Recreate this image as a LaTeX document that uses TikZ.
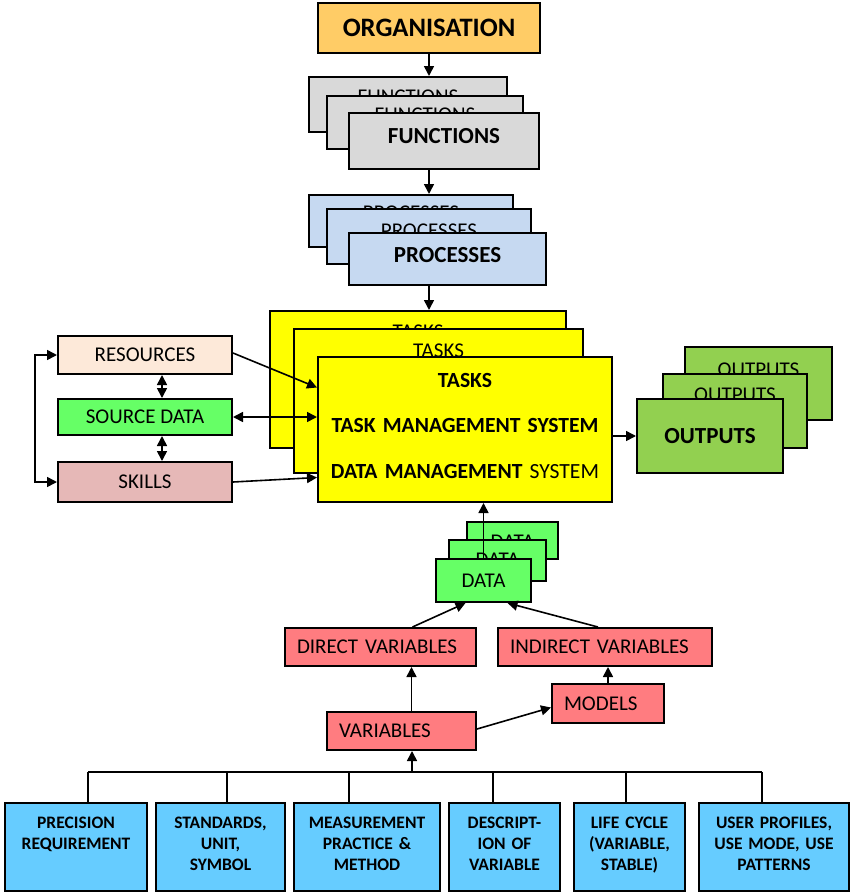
\documentclass[tikz,border=0pt]{standalone}
\usepackage{fontspec}
\setmainfont{Carlito}
\usetikzlibrary{arrows.meta}
\definecolor{orgcol}{RGB}{255, 204, 102}
\definecolor{funcol}{RGB}{217, 217, 217}
\definecolor{proccol}{RGB}{198, 217, 241}
\definecolor{taskcol}{RGB}{255, 255, 0}
\definecolor{outcol}{RGB}{146, 208, 80}
\definecolor{rescol}{RGB}{253, 233, 217}
\definecolor{srccol}{RGB}{102, 255, 102}
\definecolor{skillcol}{RGB}{230, 184, 183}
\definecolor{varcol}{RGB}{255, 124, 128}
\definecolor{propcol}{RGB}{102, 204, 255}

\begin{document}
\begin{tikzpicture}[x=0.5pt, y=-0.5pt,
  box/.style={draw, line width=1pt, inner sep=0pt},
  arr/.style={line width=0.8pt, -{Triangle[length=5pt,width=5pt]}},
  dbl/.style={line width=0.8pt, {Triangle[length=5pt,width=5pt]}-{Triangle[length=5pt,width=5pt]}},
  lbl/.style={font=\fontsize{10.5}{12.6}\selectfont},
  head/.style={font=\bfseries\fontsize{11.5}{13.8}\selectfont},
  redbox/.style={box, fill=varcol, lbl, inner xsep=6pt, align=left, minimum height=19pt},
  propbox/.style={box, fill=propcol, align=center, font=\bfseries\fontsize{8.75}{10.5}\selectfont, text height=12.5pt, text depth=31.5pt}]
\useasboundingbox (0,0) rectangle (851,894);

% Organisation down to processes
\node[box, fill=orgcol, minimum width=111pt, minimum height=25pt, font=\bfseries\fontsize{13.3}{16}\selectfont] (org) at (429,28) {ORGANISATION};

\node[box, fill=funcol, lbl, minimum width=99pt, text height=13pt, text depth=14.5pt] (fb) at (408,104.5) {FUNCTIONS};
\node[box, fill=funcol, lbl, minimum width=98pt, text height=12.5pt, text depth=14pt] (fm) at (425,122.5) {FUNCTIONS};
\node[box, fill=funcol, head, minimum width=95pt, text height=15pt, text depth=13pt] (ff) at (444,141) {FUNCTIONS};

\node[box, fill=proccol, lbl, minimum width=102pt, text height=12pt, text depth=14pt] (pb) at (411,221) {PROCESSES};
\node[box, fill=proccol, lbl, minimum width=102pt, text height=14pt, text depth=13.5pt] (pm) at (429,236.5) {PROCESSES};
\node[box, fill=proccol, head, minimum width=98.5pt, text height=14.5pt, text depth=11.5pt] (pf) at (447.5,259) {PROCESSES};

% Tasks
\node[box, fill=taskcol, lbl, minimum width=148pt, text height=13.5pt, text depth=55pt] (tb) at (418,379.5) {TASKS};
\node[box, fill=taskcol, lbl, minimum width=144.5pt, text height=14pt, text depth=58pt] (tm) at (438.5,401) {TASKS};
\node[box, fill=taskcol, text width=147pt, align=center, text height=15pt, text depth=57.5pt, font=\bfseries\fontsize{10.8}{22.75}\selectfont] (tf) at (465,429.5) {TASKS\\TASK MANAGEMENT SYSTEM\\DATA MANAGEMENT {\mdseries SYSTEM}};

% Outputs
\node[box, fill=outcol, lbl, minimum width=73.5pt, text height=14.5pt, text depth=22pt] (ob) at (758.5,383.5) {OUTPUTS};
\node[box, fill=outcol, lbl, minimum width=72pt, text height=13.5pt, text depth=23.5pt] (om) at (735,411) {OUTPUTS};
\node[box, fill=outcol, head, minimum width=73pt, minimum height=37pt] (of) at (710,436) {OUTPUTS};

% Inputs on the left
\node[box, fill=rescol, lbl, minimum width=87pt, minimum height=19pt] (res) at (145,355) {RESOURCES};
\node[box, fill=srccol, lbl, minimum width=87pt, minimum height=18pt] (src) at (145,417) {SOURCE DATA};
\node[box, fill=skillcol, lbl, minimum width=87pt, minimum height=20pt] (skills) at (145,482) {SKILLS};

% Data and variables
\node[box, fill=srccol, lbl, minimum width=45.5pt, text height=13pt, text depth=5.5pt] (db) at (512.5,540.5) {DATA};
\node[box, fill=srccol, lbl, minimum width=48.5pt, text height=13pt, text depth=7.5pt] (dm) at (497.5,560.5) {DATA};
\node[box, fill=srccol, lbl, minimum width=47.5pt, minimum height=21.5pt] (df) at (483.5,580.5) {DATA};

\node[redbox, text width=83.5pt] (direct) at (380.5,647) {DIRECT VARIABLES};
\node[redbox, text width=95pt] (indirect) at (605,647) {INDIRECT VARIABLES};
\node[redbox, text width=44pt, minimum height=19.5pt] (models) at (608,703.5) {MODELS};
\node[redbox, text width=62.5pt] (variables) at (401.5,731) {VARIABLES};

% Properties of a variable
\node[propbox, text width=71pt] (p1) at (76,847) {PRECISION\\REQUIREMENT};
\node[propbox, text width=64.5pt] (p2) at (220.5,847) {STANDARDS,\\UNIT,\\SYMBOL};
\node[propbox, text width=73pt] (p3) at (367,847) {MEASUREMENT\\PRACTICE \&\\METHOD};
\node[propbox, text width=55.5pt] (p4) at (504.5,847) {DESCRIPT-\\ION OF\\VARIABLE};
\node[propbox, text width=55.5pt] (p5) at (629.5,847) {LIFE CYCLE\\(VARIABLE,\\STABLE)};
\node[propbox, text width=75pt] (p6) at (774,847) {USER PROFILES,\\USE MODE, USE\\PATTERNS};
\coordinate (bus) at (412,772);

% Connectors
\draw[arr] (org.south) -- (org.south |- fb.north);
\draw[arr] (org.south |- ff.south) -- (org.south |- pb.north);
\draw[arr] (org.south |- pf.south) -- (org.south |- tb.north);

\draw[arr] ([yshift=1pt]res.east) -- ([yshift=21pt]tf.west);
\draw[dbl] (src.east) -- (src.east -| tf.west);
\draw[arr] (skills.east) -- ([yshift=-24pt]tf.west);
\draw[dbl] ([xshift=8.5pt]res.south) -- ([xshift=8.5pt]src.north);
\draw[dbl] ([xshift=8.5pt]src.south) -- ([xshift=8.5pt]skills.north);
\draw[dbl] (res.west) -- ++(-22,0) |- (skills.west);
\draw[arr] (of.west -| tf.east) -- (of.west);

\draw[arr] (df.north) -- (df.north |- tf.south);
\draw[arr] ([xshift=16pt]direct.north) -- ([xshift=-9pt]df.south);
\draw[arr] ([xshift=-3.5pt]indirect.north) -- ([xshift=12pt]df.south);
\draw[arr] ([xshift=5pt]variables.north) -- ([xshift=5pt]variables.north |- direct.south);
\draw[arr] ([yshift=1pt]variables.east) -- ([yshift=-2pt]models.west);
\draw[arr] (models.north) -- (models.north |- indirect.south);
\draw[arr] (bus) -- (bus |- variables.south);

\draw[line width=1pt] ([xshift=6pt]p1.north |- bus) -- ([xshift=-6pt]p6.north |- bus);
\foreach \n/\dx in {p1/12, p2/6, p3/-18, p4/-12, p5/-4, p6/-12}
  \draw[line width=1pt] ([xshift=\dx*0.5pt]\n.north) -- ([xshift=\dx*0.5pt]\n.north |- bus);
\end{tikzpicture}
\end{document}
